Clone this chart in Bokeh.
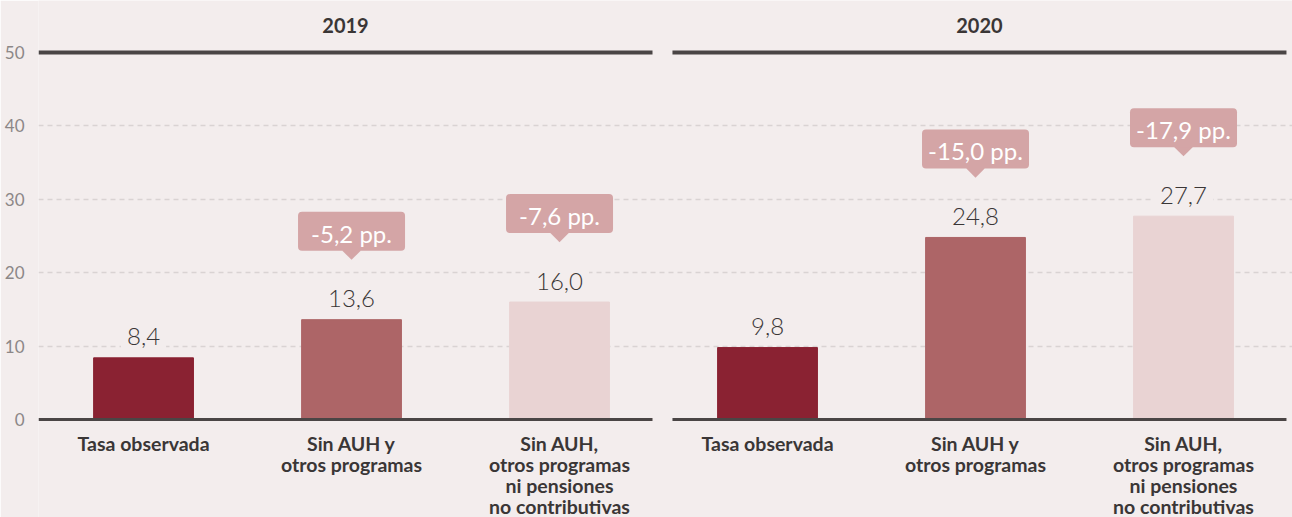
import math
from bokeh.plotting import figure
from bokeh.models import ColumnDataSource, Range1d, FixedTicker, Label
from bokeh.embed import file_html
from bokeh.resources import INLINE
from bokeh.core.properties import value

# ---------------- data ----------------
years = ["2019", "2020"]
categories = [
    "Tasa observada",
    "Sin AUH y\notros programas",
    "Sin AUH,\notros programas\nni pensiones\nno contributivas",
]
rates_2019 = [8.4, 13.6, 16.0]
rates_2020 = [9.8, 24.8, 27.7]
gaps_2019 = [-5.2, -7.6]
gaps_2020 = [-15.0, -17.9]
y_ticks = [0, 10, 20, 30, 40, 50]

# ---------------- style ----------------
BG = "#f3eded"
BAR_COLORS = ["#8a2232", "#ad6567", "#e9d3d3"]
CALLOUT = "#d4a5a6"
DARK = "#4a4545"
TEXT = "#3a3636"
TICK_TEXT = "#8c8787"
GRID = "#d9d3d3"

W, H = 1292, 517
TOP, BOTTOM, LEFT = 0, 0, 38
Y0, Y1 = -13.35, 57.08
PPU = (H - TOP - BOTTOM) / (Y1 - Y0)  # pixels per y unit
PANEL_X0 = [-0.505, 2.543]   # horizontal extent of each year's panel rules
PANEL_X1 = [2.447, 5.495]

def fmt(v):
    return f"{v:.1f}".replace(".", ",")

xs = list(range(6))
tops = rates_2019 + rates_2020
colors = BAR_COLORS * 2

p = figure(width=W, height=H, output_backend="svg", toolbar_location=None,
           x_range=Range1d(-0.505, 5.524), y_range=Range1d(Y0, Y1),
           min_border_top=TOP, min_border_bottom=BOTTOM, min_border_left=LEFT,
           min_border_right=0)
p.background_fill_color = BG
p.border_fill_color = BG
p.outline_line_color = None

# grid
p.xgrid.visible = False
p.ygrid.ticker = FixedTicker(ticks=[t for t in y_ticks if 0 < t < 50])
p.ygrid.grid_line_color = GRID
p.ygrid.grid_line_dash = "5 4"
p.ygrid.grid_line_width = 1.5

# y axis
p.yaxis.ticker = FixedTicker(ticks=y_ticks)
p.yaxis.axis_line_color = None
p.yaxis.major_tick_line_color = None
p.yaxis.minor_tick_line_color = None
p.yaxis.major_label_standoff = 8
p.yaxis.major_label_text_font = "Lato"
p.yaxis.major_label_text_font_size = "17px"
p.yaxis.major_label_text_color = TICK_TEXT

# x axis (anchored at y = 0)
p.xaxis.fixed_location = 0
p.xaxis.ticker = FixedTicker(ticks=xs)
p.xaxis.major_label_overrides = {i: categories[i % 3] for i in xs}
p.xaxis.axis_line_color = None
p.xaxis.major_tick_line_color = None
p.xaxis.minor_tick_line_color = None
p.xaxis.major_tick_out = 0
p.xaxis.major_tick_in = 0
p.xaxis.major_label_standoff = 12
p.xaxis.major_label_text_font = "Lato"
p.xaxis.major_label_text_font_style = "bold"
p.xaxis.major_label_text_font_size = "19.5px"
p.xaxis.major_label_text_color = TEXT
p.xaxis.major_label_text_line_height = 0.92

# bars
src = ColumnDataSource(dict(x=xs, top=tops, color=colors, label=[fmt(v) for v in tops]))
p.vbar(x="x", top="top", width=0.48, bottom=0, color="color", source=src)

# panel rules (baseline and top line) split per year
p.segment(x0=PANEL_X0, y0=[0, 0], x1=PANEL_X1, y1=[0, 0], line_color=DARK, line_width=3)
p.segment(x0=PANEL_X0, y0=[50, 50], x1=PANEL_X1, y1=[50, 50], line_color=DARK, line_width=4)

# year headers
for i, yr in enumerate(years):
    p.add_layout(Label(x=(PANEL_X0[i] + PANEL_X1[i]) / 2, y=50, y_offset=27, text=yr,
                       text_align="center", text_baseline="middle",
                       text_font="Lato", text_font_style="bold",
                       text_font_size="20px", text_color=TEXT))

# value labels
p.text(x="x", y="top", text="label", source=src, y_offset=-21,
       text_align="center", text_baseline="alphabetic",
       text_font=value("Lato Light, Lato"), text_font_size="24px",
       text_color=TEXT, background_fill_color=BG, padding=6)

# callouts
cx = [1, 2, 4, 5]
ctop = rates_2019[1:] + rates_2020[1:]
gaps = gaps_2019 + gaps_2020
csrc = ColumnDataSource(dict(
    x=cx, top=ctop,
    ptr=[t + 69 / PPU for t in ctop],
    box=[t + 88.5 / PPU for t in ctop],
    label=[fmt(g) + " pp." for g in gaps]))
p.scatter(x="x", y="ptr", source=csrc, marker="square", size=13, angle=math.pi / 4,
          fill_color=CALLOUT, line_color=None)
p.rect(x="x", y="box", width=107, height=39, width_units="screen",
       height_units="screen", source=csrc, fill_color=CALLOUT, line_color=None,
       border_radius=4)
p.text(x="x", y="box", text="label", source=csrc, y_offset=2,
       text_align="center", text_baseline="middle",
       text_font=value("Lato"), text_font_size="24px", text_color="white")

html = file_html(p, INLINE)
html = html.replace("<body>", '<body style="background-color:%s;">' % BG, 1)
open("out.html", "w").write(html)
